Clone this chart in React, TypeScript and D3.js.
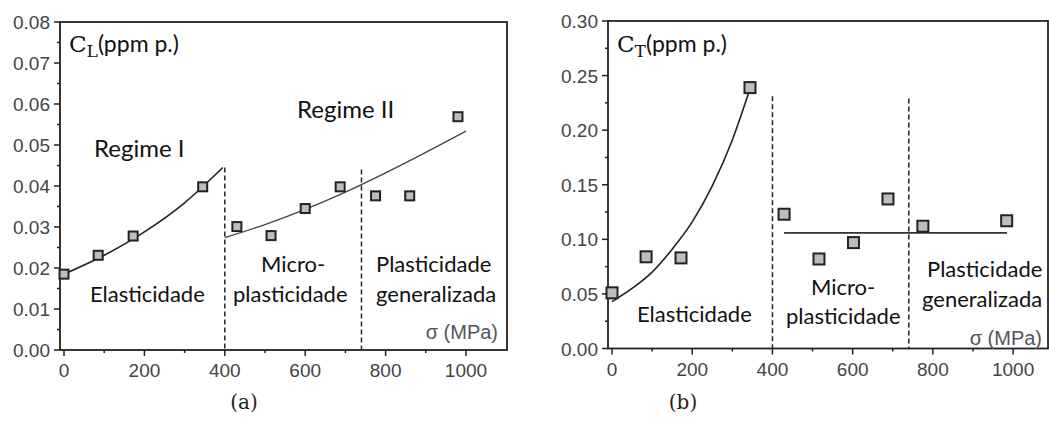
import React from 'react';
import * as d3 from 'd3';

// stress values (MPa) and measured concentrations
const sigmaL = [0, 85, 172, 345, 430, 515, 600, 687, 775, 860, 980];
const concL = [0.0185, 0.0231, 0.0278, 0.0398, 0.0301, 0.0279, 0.0345, 0.0398, 0.0376, 0.0376, 0.0569];

const sigmaT = [0, 85, 172, 344, 429, 516, 602, 688, 775, 984];
const concT = [0.051, 0.084, 0.083, 0.239, 0.123, 0.082, 0.097, 0.137, 0.112, 0.117];

// fitted curves
const fitL1X = [0, 100, 200, 300, 395];
const fitL1Y = [0.0185, 0.0231, 0.0288, 0.0359, 0.0445];
const fitL2X = [400, 500, 600, 700, 800, 900, 1000];
const fitL2Y = [0.0274, 0.0306, 0.0343, 0.0385, 0.0432, 0.0482, 0.0534];

const fitT1X = [0, 50, 100, 150, 200, 250, 300, 345];
const fitT1Y = [0.043, 0.055, 0.070, 0.091, 0.116, 0.149, 0.191, 0.239];
const fitT2X = [429, 985];
const fitT2Y = [0.106, 0.106];

// regime boundaries
const boundaries = [400, 740];
const boundTopL = [0.0445, 0.044];
const boundTopT = [0.231, 0.229];

const xTicks = [0, 200, 400, 600, 800, 1000];
const xMinor = [100, 300, 500, 700, 900];
const yTicksL = [0, 0.01, 0.02, 0.03, 0.04, 0.05, 0.06, 0.07, 0.08];
const yTicksT = [0, 0.05, 0.10, 0.15, 0.20, 0.25, 0.30];

const SANS = 'Lato, "Open Sans", sans-serif';
const ARIAL = '"Liberation Sans", Arial, sans-serif';
const SERIF = '"DejaVu Serif", "Liberation Serif", serif';

const App = () => {
  const svgRef = React.useRef(null);

  React.useEffect(() => {
    const svg = d3.select(svgRef.current);
    svg.selectAll('*').remove();

    const drawPanel = (cfg) => {
      const { x, y, yTicks, yFmt, xs, ys, fits, bTop, sqSize } = cfg;
      const g = svg.append('g');
      const [x0, x1] = x.range();
      const [yb, yt] = y.range();

      // frame (top / right)
      g.append('rect')
        .attr('x', x0).attr('y', yt)
        .attr('width', x1 - x0).attr('height', yb - yt)
        .attr('fill', 'none').attr('stroke', '#222').attr('stroke-width', 1.8);

      // y axis ticks
      const yMinor = d3.range(0, yTicks.length - 1).map(i => (yTicks[i] + yTicks[i + 1]) / 2);
      g.selectAll('.ym').data(yTicks).enter().append('line')
        .attr('x1', x0 - 6).attr('x2', x0)
        .attr('y1', d => y(d)).attr('y2', d => y(d))
        .attr('stroke', '#222').attr('stroke-width', 1.5);
      g.selectAll('.yn').data(yMinor).enter().append('line')
        .attr('x1', x0 - 3).attr('x2', x0)
        .attr('y1', d => y(d)).attr('y2', d => y(d))
        .attr('stroke', '#222').attr('stroke-width', 1.5);
      g.selectAll('.yl').data(yTicks).enter().append('text')
        .attr('x', x0 - 10).attr('y', d => y(d) + 7)
        .attr('text-anchor', 'end')
        .style('font-family', ARIAL).style('font-size', '19px').attr('fill', '#444')
        .text(d => yFmt(d));

      // x axis ticks
      g.selectAll('.xm').data(xTicks).enter().append('line')
        .attr('x1', d => x(d)).attr('x2', d => x(d))
        .attr('y1', yb).attr('y2', yb + 6)
        .attr('stroke', '#222').attr('stroke-width', 1.5);
      g.selectAll('.xn').data(xMinor).enter().append('line')
        .attr('x1', d => x(d)).attr('x2', d => x(d))
        .attr('y1', yb).attr('y2', yb + 3)
        .attr('stroke', '#222').attr('stroke-width', 1.5);
      g.selectAll('.xl').data(xTicks).enter().append('text')
        .attr('x', d => x(d)).attr('y', yb + 27)
        .attr('text-anchor', 'middle')
        .style('font-family', ARIAL).style('font-size', '19px').attr('fill', '#444')
        .text(d => d);

      // regime boundaries
      g.selectAll('.bd').data(boundaries).enter().append('line')
        .attr('x1', d => x(d)).attr('x2', d => x(d))
        .attr('y1', (d, i) => y(bTop[i])).attr('y2', yb)
        .attr('stroke', '#222').attr('stroke-width', 1.5)
        .style('stroke-dasharray', '5,3');

      // fitted curves
      const line = d3.line().x(d => x(d[0])).y(d => y(d[1])).curve(d3.curveMonotoneX);
      fits.forEach(f => {
        g.append('path')
          .attr('d', line(d3.zip(f.xs, f.ys)))
          .attr('fill', 'none').attr('stroke', f.color).attr('stroke-width', f.w);
      });

      // data points
      g.selectAll('.pt').data(d3.zip(xs, ys)).enter().append('rect')
        .attr('x', d => x(d[0]) - sqSize / 2).attr('y', d => y(d[1]) - sqSize / 2)
        .attr('width', sqSize).attr('height', sqSize)
        .attr('fill', '#bdbdbd').attr('stroke', '#222').attr('stroke-width', 2);

      return g;
    };

    const xL = d3.scaleLinear().domain([-10, 1102]).range([60, 507]);
    const yL = d3.scaleLinear().domain([0, 0.08]).range([350, 22]);
    const gL = drawPanel({
      x: xL, y: yL, yTicks: yTicksL, yFmt: d3.format('.2f'),
      xs: sigmaL, ys: concL, bTop: boundTopL, sqSize: 9,
      fits: [
        { xs: fitL1X, ys: fitL1Y, color: '#222', w: 1.6 },
        { xs: fitL2X, ys: fitL2Y, color: '#444', w: 1.4 },
      ],
    });

    const xT = d3.scaleLinear().domain([-10, 1087]).range([608, 1048]);
    const yT = d3.scaleLinear().domain([0, 0.30]).range([348.5, 21]);
    const gT = drawPanel({
      x: xT, y: yT, yTicks: yTicksT, yFmt: d3.format('.2f'),
      xs: sigmaT, ys: concT, bTop: boundTopT, sqSize: 11,
      fits: [
        { xs: fitT1X, ys: fitT1Y, color: '#222', w: 1.6 },
        { xs: fitT2X, ys: fitT2Y, color: '#333', w: 1.8 },
      ],
    });

    const label = (g, px, py, txt, size = 22) =>
      g.append('text').attr('x', px).attr('y', py)
        .style('font-family', SANS).style('font-size', size + 'px').attr('fill', '#111')
        .text(txt);

    const cLabel = (g, px, py, sub) => {
      const t = g.append('text').attr('x', px).attr('y', py).attr('fill', '#111');
      t.append('tspan').style('font-family', SERIF).style('font-size', '23px').text('C');
      t.append('tspan').style('font-family', SERIF).style('font-size', '17px').attr('dy', 5).text(sub);
      t.append('tspan').style('font-family', SANS).style('font-size', '23px').attr('dy', -5).text('(ppm p.)');
    };

    const sigmaLabel = (g, px, py) =>
      g.append('text').attr('x', px).attr('y', py).attr('text-anchor', 'end')
        .style('font-family', ARIAL).style('font-size', '20px').attr('fill', '#555')
        .text('σ (MPa)');

    // panel (a)
    cLabel(gL, 69, 52, 'L');
    label(gL, 94, 157, 'Regime I', 24);
    label(gL, 297, 118, 'Regime II', 24);
    label(gL, 90, 302, 'Elasticidade');
    label(gL, 261, 272, 'Micro-');
    label(gL, 233, 302, 'plasticidade');
    label(gL, 376, 272, 'Plasticidade');
    label(gL, 376, 302, 'generalizada');
    sigmaLabel(gL, 498, 339);

    // panel (b)
    cLabel(gT, 617, 52, 'T');
    label(gT, 637, 322, 'Elasticidade');
    label(gT, 811, 295, 'Micro-');
    label(gT, 786, 324, 'plasticidade');
    label(gT, 927, 277, 'Plasticidade');
    label(gT, 922, 307, 'generalizada');
    sigmaLabel(gT, 1042, 345);

    // captions
    svg.append('text').attr('x', 244).attr('y', 409).attr('text-anchor', 'middle')
      .style('font-family', SERIF).style('font-size', '20px').attr('fill', '#222').text('(a)');
    svg.append('text').attr('x', 683).attr('y', 409).attr('text-anchor', 'middle')
      .style('font-family', SERIF).style('font-size', '20px').attr('fill', '#222').text('(b)');
  }, []);

  return (
    <svg ref={svgRef} width={1049} height={439}
      style={{ position: 'absolute', left: 0, top: 0, background: '#fff' }} />
  );
};

export default App;
